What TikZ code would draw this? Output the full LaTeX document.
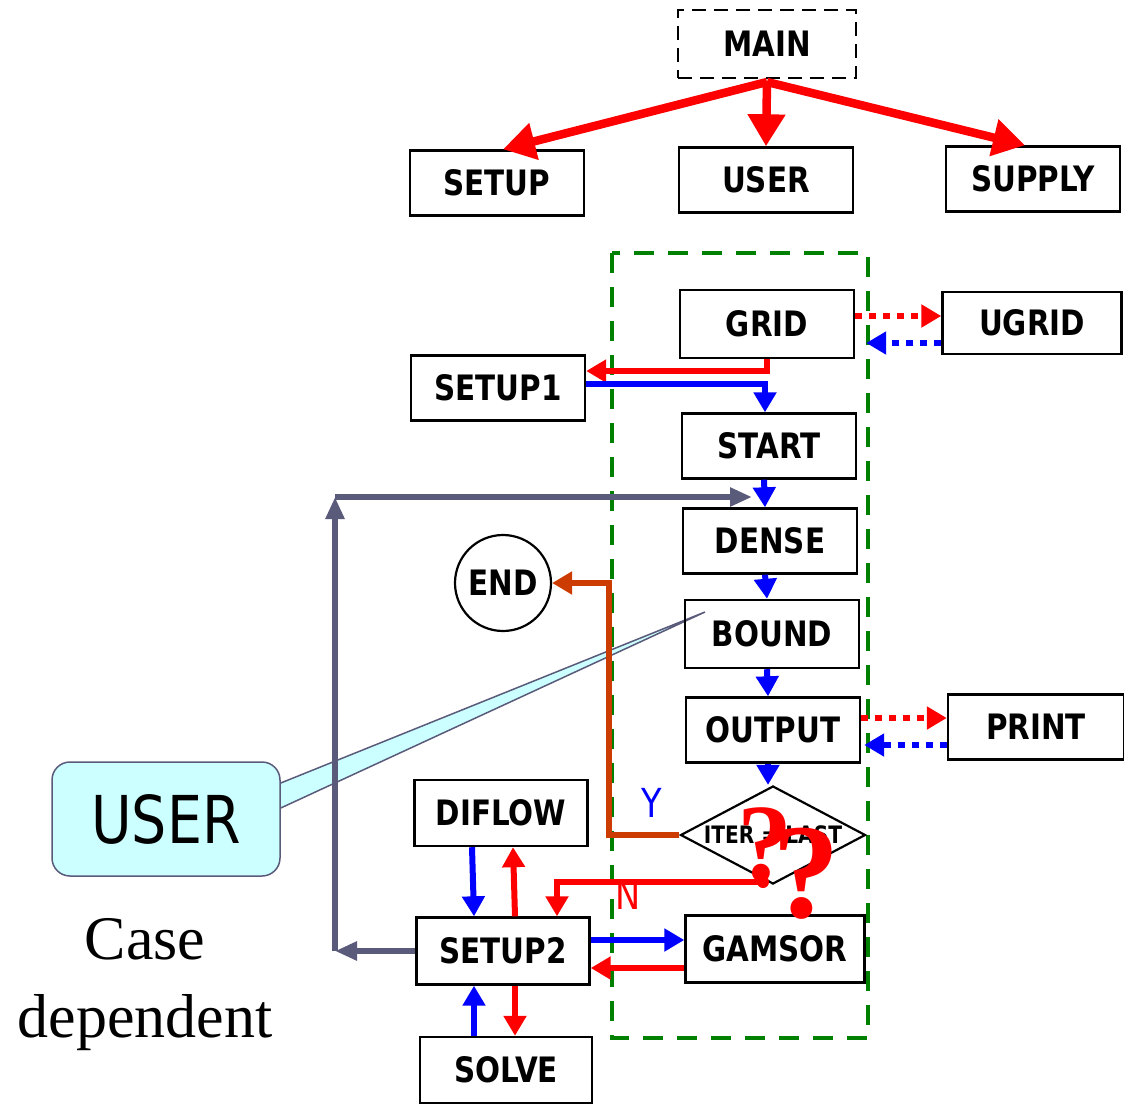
\documentclass[tikz,border=0pt]{standalone}
\usepackage{fontspec}
\usetikzlibrary{arrows.meta,shapes.geometric,backgrounds}
\newfontfamily\dejavu{DejaVu Sans}[FakeStretch=0.84]
\newfontfamily\libserif{Liberation Serif}
\definecolor{flowblue}{RGB}{0,0,255}
\definecolor{endline}{RGB}{204,60,0}
\definecolor{loopgray}{RGB}{90,90,122}
\definecolor{framegreen}{RGB}{0,128,0}
\definecolor{calloutcyan}{RGB}{204,255,255}

\begin{document}
\begin{tikzpicture}[
  x=1pt,y=-1pt,
  box/.style={draw,line width=2.4pt,minimum width=174pt,minimum height=65pt,
    inner sep=0pt,font=\dejavu\bfseries\fontsize{35}{40}\selectfont},
  bigred/.style={red,line width=8.5pt,-{Triangle[length=32pt,width=36pt]}},
  flow/.style={line width=6pt,-{Triangle[length=20pt,width=22pt]}},
  dots/.style={flow,dash pattern=on 7pt off 7pt},
  loop/.style={loopgray,line width=6pt,-{Triangle[length=22pt,width=18pt]}},
  yn/.style={font=\dejavu\fontsize{40}{44}\selectfont}
]
\useasboundingbox (0,0) rectangle (1124,1103);

% top level
\node[box,dash pattern=on 14pt off 8pt,minimum width=178pt,minimum height=68pt] (main) at (767,44) {MAIN};
\node[box] (setup) at (497,183) {SETUP};
\node[box] (user) at (766,180) {USER};
\node[box] (supply) at (1033,179) {SUPPLY};
\coordinate (hub) at (767,82);
\draw[bigred] (hub) -- ([xshift=6pt]setup.north);
\draw[bigred] (hub) -- (user.north);
\draw[bigred] (hub) -- ([xshift=-8pt]supply.north);

% solver loop
\draw[framegreen,line width=4pt,dash pattern=on 20pt off 14pt] (612,253) rectangle (868,1038);
\node[box,minimum height=68pt] (grid) at (767,324) {GRID};
\node[box,minimum width=179pt,minimum height=62pt] (ugrid) at (1032,323) {UGRID};
\node[box] (setup1) at (498,388) {SETUP1};
\node[box] (start) at (769,446) {START};
\node[box] (dense) at (770,541) {DENSE};
\node[box,minimum height=68pt] (bound) at (772,634) {BOUND};
\node[box] (output) at (773,730) {OUTPUT};
\node[box,minimum width=176pt] (print) at (1036,727) {PRINT};
\node[draw,diamond,aspect=1.9,line width=2.2pt,minimum width=185pt,minimum height=98pt,
  inner sep=0pt,font=\dejavu\bfseries\fontsize{24}{26}\selectfont] (iter) at (773,835) {ITER = LAST};
\node[draw,circle,line width=2.2pt,minimum size=96pt,inner sep=0pt,
  font=\dejavu\bfseries\fontsize{35}{40}\selectfont] (end) at (503,583) {END};
\node[box,minimum width=173pt,minimum height=66pt] (diflow) at (501,813) {DIFLOW};
\node[box,minimum width=173pt,minimum height=67pt] (setup2) at (503,951) {SETUP2};
\node[box,minimum width=179pt,minimum height=67pt] (gamsor) at (775,949) {GAMSOR};
\node[box,minimum width=172pt,minimum height=66pt] (solve) at (506,1070) {SOLVE};

\draw[dots,red] ([yshift=8pt]grid.east) -- ([yshift=7pt]ugrid.west);
\draw[dots,flowblue] ([yshift=-20pt]ugrid.west) -- ([xshift=11pt,yshift=-19pt]grid.east);
\draw[flow,red] (grid.south) |- ([yshift=17pt]setup1.east);
\draw[flow,flowblue] ([yshift=4pt]setup1.east) -| ([xshift=-4pt]start.north);
\foreach \a/\b in {start/dense,dense/bound,bound/output,output/iter}
  \draw[flow,flowblue] ([xshift=-5pt]\a.south) -- ([xshift=-5pt]\b.north);
\draw[dots,red] ([yshift=12pt]output.east) -- ([yshift=9pt]print.west);
\draw[dots,flowblue] ([yshift=-18pt]print.west) -- ([xshift=3pt,yshift=-15pt]output.east);

% exit and restart
\draw[flow,endline] (iter.west) -- ++(-70,0) |- (end.east);
\node[yn,text=flowblue] (ylab) at (652,803) {Y};
\coordinate (nstart) at (763,882);
\fill[red] (nstart) circle (6pt);
\draw[flow,red] (nstart) -| ([xshift=54pt]setup2.north);
\node[yn,text=red] (nlab) at (628,895) {N};
\node[anchor=base,inner sep=0pt,text=red,font=\libserif\bfseries\fontsize{110}{120}\selectfont] (qa) at (765,880) {?};
\node[anchor=base,inner sep=0pt,text=red,font=\libserif\bfseries\fontsize{135}{150}\selectfont] (qb) at (806,917) {?};

\draw[flow,flowblue] ([xshift=-29pt]diflow.south) -- ([xshift=-29pt]setup2.north);
\draw[flow,red] ([xshift=12pt]setup2.north) -- ([xshift=12pt]diflow.south);
\draw[flow,flowblue] ([yshift=11pt]setup2.east) -- ([yshift=9pt]gamsor.west);
\draw[flow,red] ([yshift=-19pt]gamsor.west) -- ([yshift=-17pt]setup2.east);
\draw[flow,flowblue] ([xshift=-32pt]solve.north) -- ([xshift=-29pt]setup2.south);
\draw[flow,red] ([xshift=12pt]setup2.south) -- ([xshift=9pt]solve.north);

\coordinate (lb) at (335,951);
\coordinate (lt) at (335,497);
\coordinate (rt) at (752,497);
\draw[loop] (setup2.west) -- (lb);
\draw[loop] (lb) -- (lt);
\draw[loop] (lt) -- (rt);

% callout
\node[draw=loopgray,fill=calloutcyan,line width=1.5pt,rounded corners=18pt,
  minimum width=228pt,minimum height=114pt,
  font=\dejavu\fontsize{66}{70}\selectfont] (callout) at (166,819) {USER};
\coordinate (tip) at (705,612);
\begin{scope}[on background layer]
  \filldraw[draw=loopgray,fill=calloutcyan,line width=1.5pt]
    ([yshift=36pt]callout.east) -- (tip) -- ([yshift=11pt]callout.east);
\end{scope}
\node[align=center,font=\libserif\fontsize{62}{78}\selectfont] (casedep) at (145,985) {Case\\dependent};
\end{tikzpicture}
\end{document}
